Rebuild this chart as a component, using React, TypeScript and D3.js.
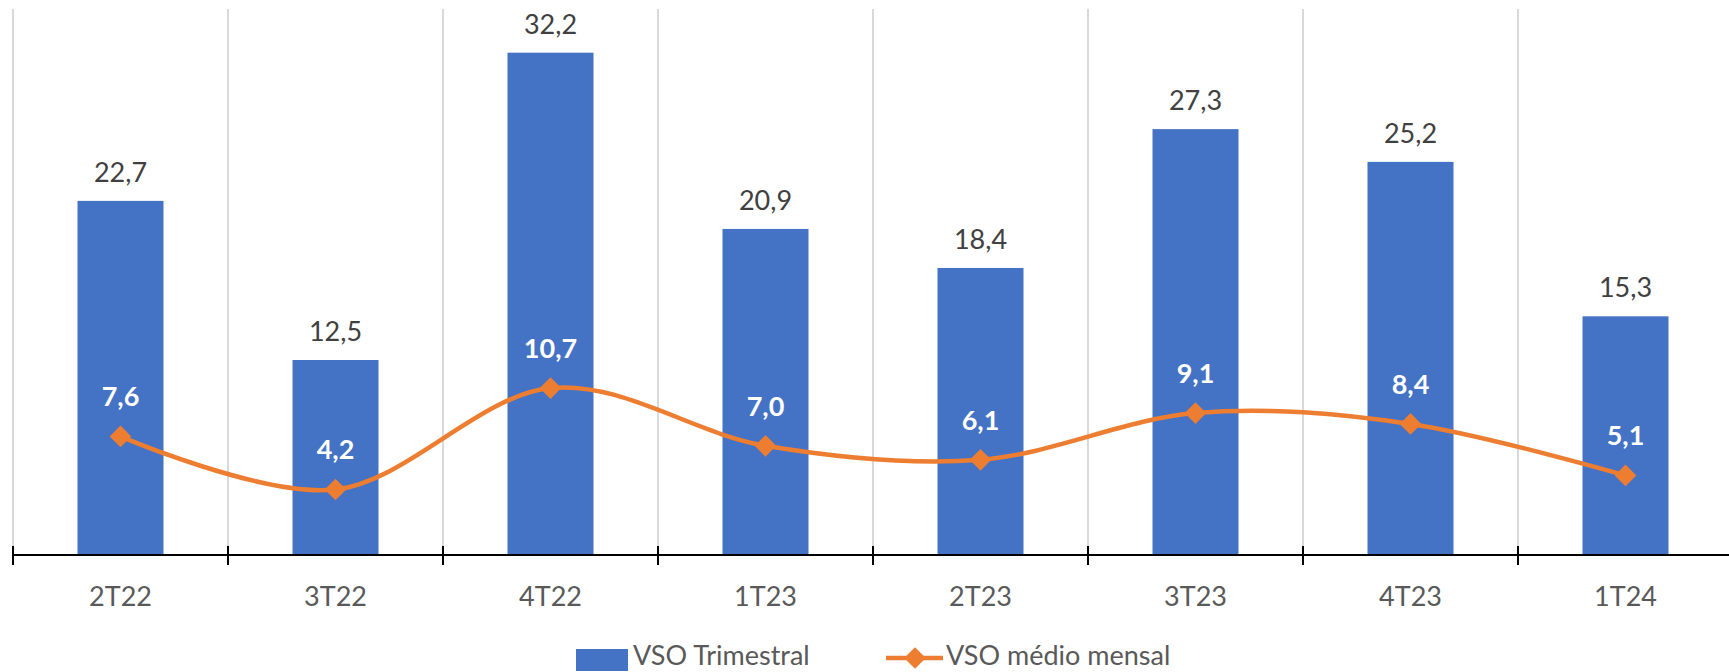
import React from "react";
import * as d3 from "d3";

const categories = ["2T22", "3T22", "4T22", "1T23", "2T23", "3T23", "4T23", "1T24"];
const vsoTrimestral = [22.7, 12.5, 32.2, 20.9, 18.4, 27.3, 25.2, 15.3];
const vsoMedioMensal = [7.6, 4.2, 10.7, 7.0, 6.1, 9.1, 8.4, 5.1];
const seriesNames = ["VSO Trimestral", "VSO médio mensal"];

const W = 1729;
const H = 672;
const FONT = "Lato, 'Open Sans', sans-serif";
const BLUE = "#4472C4";
const ORANGE = "#ED7D31";

const fmt = (v: number) => v.toFixed(1).replace(".", ",");

export default function App() {
  const left = 13;
  const step = 215;
  const x = d3.scaleBand<string>().domain(categories).range([left, left + step * categories.length]);
  const y = d3.scaleLinear().domain([0, 35]).range([555, 9]);
  const barW = x.step() * 0.4;
  const cx = (c: string) => (x(c) as number) + x.bandwidth() / 2;

  const pts: [number, number][] = categories.map((c, i) => [cx(c), y(vsoMedioMensal[i])]);
  const line = d3.line().curve(d3.curveCatmullRom.alpha(0))(pts) || "";
  const diamond = d3.symbol().type(d3.symbolDiamond2).size(300)() || "";

  const boundaries = d3.range(categories.length + 1).map((i) => left + i * x.step());

  return (
    <svg width={W} height={H} style={{ position: "absolute", left: 0, top: 0, background: "#fff" }} fontFamily={FONT}>
      {boundaries.map((b, i) => (
        <line key={"g" + i} x1={b} x2={b} y1={y(35)} y2={y(0)} stroke="#d9d9d9" strokeWidth={2} />
      ))}
      {categories.map((c, i) => (
        <rect key={"b" + c} x={cx(c) - barW / 2} y={y(vsoTrimestral[i])} width={barW} height={y(0) - y(vsoTrimestral[i])} fill={BLUE} />
      ))}
      <line x1={left} x2={W + 10} y1={y(0)} y2={y(0)} stroke="#000" strokeWidth={2} />
      {boundaries.map((b, i) => (
        <line key={"t" + i} x1={b} x2={b} y1={y(0) - 9} y2={y(0) + 10} stroke="#000" strokeWidth={2} />
      ))}
      {categories.map((c, i) => (
        <text key={"bl" + c} x={cx(c)} y={y(vsoTrimestral[i]) - 19} textAnchor="middle" fontSize={27} fill="#404040">
          {fmt(vsoTrimestral[i])}
        </text>
      ))}
      <path d={line} fill="none" stroke={ORANGE} strokeWidth={4.5} />
      {pts.map((p, i) => (
        <path key={"m" + i} d={diamond} transform={`translate(${p[0]},${p[1]})`} fill={ORANGE} />
      ))}
      {categories.map((c, i) => (
        <text key={"ll" + c} x={cx(c)} y={y(vsoMedioMensal[i]) - 30} textAnchor="middle" fontSize={27} fontWeight="bold" fill="#fff">
          {fmt(vsoMedioMensal[i])}
        </text>
      ))}
      {categories.map((c) => (
        <text key={"c" + c} x={cx(c)} y={606} textAnchor="middle" fontSize={27} fill="#595959">
          {c}
        </text>
      ))}
      <g>
        <rect x={576} y={649} width={52} height={22} fill={BLUE} />
        <text x={633} y={665} fontSize={27} fill="#595959">{seriesNames[0]}</text>
        <line x1={886} x2={943} y1={658} y2={658} stroke={ORANGE} strokeWidth={4.5} />
        <path d={diamond} transform="translate(915,658)" fill={ORANGE} />
        <text x={946} y={665} fontSize={27} fill="#595959">{seriesNames[1]}</text>
      </g>
    </svg>
  );
}
